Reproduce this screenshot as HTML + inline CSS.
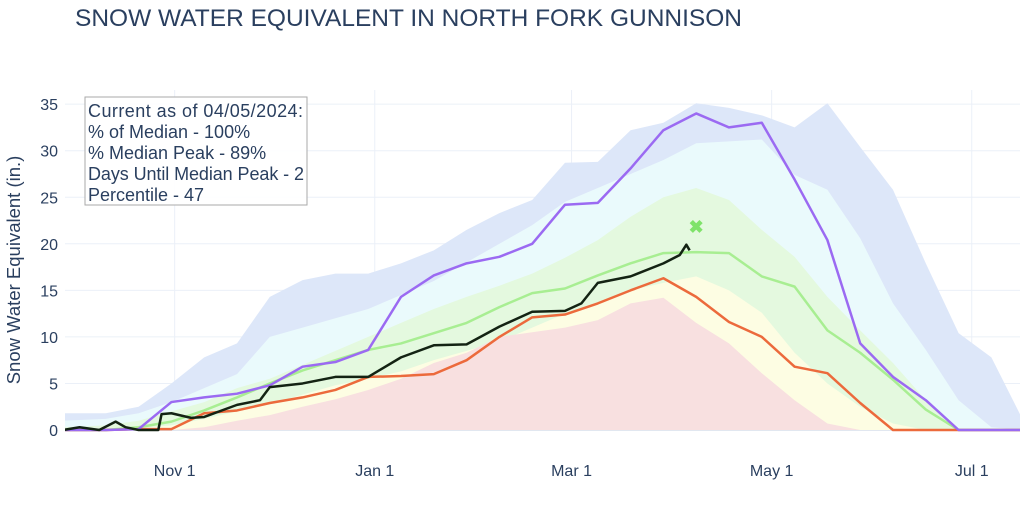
<!DOCTYPE html>
<html><head><meta charset="utf-8"><style>
html,body{margin:0;padding:0;background:#fff;}
svg text{font-family:"Liberation Sans",sans-serif;fill:#2a3f5f;}
</style></head><body>
<svg id="c" width="1024" height="502" xmlns="http://www.w3.org/2000/svg">
<defs><clipPath id="clip"><rect x="65" y="90" width="955" height="345"/></clipPath></defs>
<text x="75" y="26" font-size="24.5">SNOW WATER EQUIVALENT IN NORTH FORK GUNNISON</text>
<text transform="translate(20,270) rotate(-90)" text-anchor="middle" font-size="18.5">Snow Water Equivalent (in.)</text>
<g id="grid"></g>
<g id="bands" clip-path="url(#clip)"></g>
<g id="lines" clip-path="url(#clip)"></g>
<g id="axes"></g>
<g>
<rect x="85" y="97" width="222" height="108" fill="#fff" fill-opacity="0.9" stroke="#aaa" stroke-width="1"/>
<text x="88" y="117" font-size="18" textLength="215">Current as of 04/05/2024:</text>
<text x="88" y="138" font-size="18">% of Median - 100%</text>
<text x="88" y="159" font-size="18">% Median Peak - 89%</text>
<text x="88" y="180" font-size="18" textLength="216">Days Until Median Peak - 2</text>
<text x="88" y="201" font-size="18">Percentile - 47</text>
</g>
</svg>
<script>
const bandDays=[-3,10,20,30,40,50,60,70,80,90,100,110,120,130,140,150,160,170,180,190,200,210,220,230,240,250,260,270,280,290];
const maxVals=[1.8,1.8,2.5,5,7.8,9.3,14.3,16.1,16.8,16.8,17.9,19.3,21.5,23.3,24.7,28.7,28.8,32.2,33,35.1,34.6,33.8,32.5,35.1,30.4,25.8,17.9,10.4,7.8,0.8];
const p90Vals=[1,1.2,1.8,3,4.5,6,10,11,12,13,14.5,16,18,20,22,24.5,26,27.5,29,30.8,31,31.2,27.4,25.8,20.6,13.6,8.6,3.2,0.3,0];
const p70Vals=[0.3,0.5,1,2,3,4.5,5.5,7,8.5,10,11.5,13,14.3,15.5,16.8,18.5,20.4,22.9,25,26,24.7,21.5,18.6,14.3,10.7,7.2,3.2,0,0,0];
const medianVals=[0,0,0.3,0.9,2.1,3.5,5,6.4,7.5,8.6,9.3,10.4,11.5,13.2,14.7,15.2,16.6,17.9,19,19.1,19,16.5,15.4,10.7,8.3,5.4,2.2,0,0,0];
const p30Vals=[0,0,0.2,0.5,1.2,2,2.8,3.8,4.8,5.5,6.3,7.5,8.5,9.5,11,12.5,13.6,15,15.8,16.5,15,12.6,8.3,5,2.5,0.7,0,0,0,0];
const p10Vals=[0,0,0,0,0.3,1,1.6,2.5,3.3,4.3,5.5,7.2,8.3,10,10.5,11,11.8,13.6,14.2,11.5,9.3,6.1,3.2,0.7,0,0,0,0,0,0];
const maxYearVals=[0,0,0.1,3.0,3.5,3.9,4.8,6.8,7.3,8.6,14.3,16.6,17.9,18.6,20,24.2,24.4,28.1,32.2,34,32.5,33,26.9,20.4,9.3,5.7,3.2,0,0,0];
const minYearVals=[0,0,0.1,0.1,1.8,2.1,2.9,3.5,4.3,5.7,5.8,6,7.5,10,12.1,12.4,13.6,15,16.3,14.3,11.6,10,6.8,6.1,2.9,0,0,0,0,0];
const currentDays=[-3,2,8,13,16,20,26,27,30,36,40,50,57,60,70,80,90,100,110,120,130,140,150,155,160,170,180,185,187,188];
const currentVals=[0,0.3,0,0.9,0.3,0,0,1.7,1.8,1.3,1.4,2.7,3.2,4.6,5,5.7,5.7,7.8,9.1,9.2,11.1,12.7,12.8,13.6,15.8,16.5,17.9,18.8,19.9,19.3];
const peakDay=[190];const peakVal=[21.8];
const yTicks=[0,5,10,15,20,25,30,35];
const xTickLabels=["Nov 1","Jan 1","Mar 1","May 1","Jul 1"];
const xTickDays=[31,92,152,213,274];

const NS="http://www.w3.org/2000/svg";
const X=d=>73+d*3.28, Y=v=>430-v*9.31;
function mk(tag,attrs,parent){const e=document.createElementNS(NS,tag);for(const k in attrs)e.setAttribute(k,attrs[k]);parent.appendChild(e);return e;}
const grid=document.getElementById('grid'),bands=document.getElementById('bands'),lines=document.getElementById('lines'),axes=document.getElementById('axes');
yTicks.forEach(t=>{
  const l=mk('line',{x1:65,x2:1020,y1:Y(t),y2:Y(t),stroke:t===0?'#e1e7f0':'#ebf0f8','stroke-width':t===0?2:1},grid);
  
  
  const tx=mk('text',{x:58,y:Y(t)+6,'text-anchor':'end','font-size':16},axes);tx.textContent=t;
  
  
});
xTickDays.forEach((d,i)=>{
  const l=mk('line',{x1:X(d),x2:X(d),y1:90,y2:430,stroke:'#ebf0f8','stroke-width':1},grid);
  
  
  const tx=mk('text',{x:X(d),y:476,'text-anchor':'middle','font-size':16},axes);tx.textContent=xTickLabels[i];
  
  
});
function area(vals,fill,name){
  let d='M'+X(bandDays[0])+','+Y(0);
  bandDays.forEach((dd,i)=>{d+='L'+X(dd)+','+Y(vals[i]);});
  d+='L'+X(bandDays[bandDays.length-1])+','+Y(0)+'Z';
  const p=mk('path',{d:d,fill:fill},bands);
  
  
}
area(maxVals,'#dde7f9','max-band');
area(p90Vals,'#eafafc','p90-band');
area(p70Vals,'#e4f9df','p70-band');
area(p30Vals,'#fdfde3','p30-band');
area(p10Vals,'#f8e0e0','p10-band');
function line(days,vals,color,w,name){
  const pts=days.map((d,i)=>X(d)+','+Y(vals[i])).join(' ');
  const p=mk('polyline',{points:pts,fill:'none',stroke:color,'stroke-width':w,'stroke-linejoin':'round'},lines);
  
  
}
line(bandDays,medianVals,'#a8ee92',2.5,'median-line');
line(bandDays,minYearVals,'#ec6a3c',2.5,'min-year-line');
line(bandDays,maxYearVals,'#9b6af2',2.5,'max-year-line');
line(currentDays,currentVals,'#132313',2.5,'current-year-line');
peakDay.forEach((d,i)=>{
  const t=mk('text',{x:X(d),y:Y(peakVal[i])+6,'text-anchor':'middle','font-size':18,'font-weight':'bold',style:'fill:#7fe36a'},lines);
  t.textContent='✖';
  
  
});
</script>
</body></html>
